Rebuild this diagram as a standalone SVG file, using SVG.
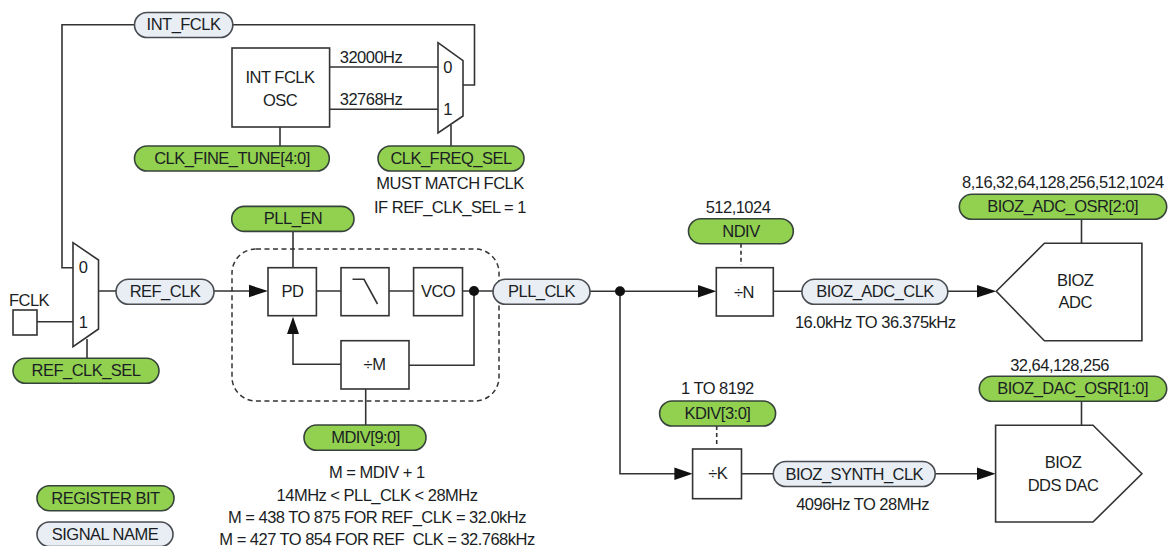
<svg xmlns="http://www.w3.org/2000/svg" width="1171" height="546" viewBox="0 0 1171 546">
<style>
text{font-family:"Liberation Sans",Arial,sans-serif;font-size:16.5px;fill:#1a1e24;text-anchor:middle;letter-spacing:-.52px}
.box{fill:#fff;stroke:#333;stroke-width:1.6}
.reg{fill:#92d14f;stroke:#36433a;stroke-width:1.6}
.sig{fill:#e9edf4;stroke:#484c50;stroke-width:1.6}
.w{fill:none;stroke:#333;stroke-width:1.6}
.d{stroke-dasharray:4 3}
.dot{fill:#111}
.ah{fill:#111}
</style>
<g id="connectors">
<path class="w" d="M134.500 24.700H62V267.700H73"/>
<path class="w" d="M232.800 24.700H474.500V85H463"/>
<path class="w" d="M329.600 67H438M329.600 109.300H438"/>
<path class="w" d="M280 127V146M451 125V146"/>
<path class="w" d="M293 231.700V268"/>
<path class="w" d="M37 321.700H73M87 339V358.300M98 291H116M214 291H250"/>
<path class="w" d="M316.400 291H341M389 291H413.600M462.500 291H493"/>
<path class="w" d="M341 364.300H293V333"/>
<path class="w" d="M409 365.300H474V291"/>
<path class="w" d="M365.700 389V425"/>
<path class="w" d="M590 291.300H699M773.300 291.300H802M947.800 291.300H978"/>
<path class="w" d="M620 291.300V473.700H675M741.500 473.700H773.300M935.200 473.700H978"/>
<path class="w d" d="M741 243.700V265M716.700 426V447"/>
<path class="w" d="M1081.500 219.300V243.300M1081.500 401.300V425.300"/>
<path class="w" d="M352.500 279.300H364L377.500 304"/>
<path class="ah" d="M268 291L249 284.800V297.200Z"/>
<path class="ah" d="M293 316.700L287 334H299Z"/>
<path class="ah" d="M716.300 291.300L698 285V297.600Z"/>
<path class="ah" d="M996.300 291.300L977 285V297.600Z"/>
<path class="ah" d="M692.600 473.700L674.400 467.400V480Z"/>
<path class="ah" d="M995.600 473.700L977 467.400V480Z"/>
<circle class="dot" cx="474" cy="291" r="5"/>
<circle class="dot" cx="620" cy="291.300" r="5"/>
</g>
<g id="pll-boundary"><rect x="232" y="249" width="267" height="152" rx="24" fill="none" stroke="#333" stroke-width="1.5" stroke-dasharray="5 3.500"/></g>
<g id="int-fclk"><rect class="sig" x="134.500" y="12.500" width="98.300" height="25" rx="12.500"/><text x="183.500" y="30.300">INT_FCLK</text></g>
<g id="osc"><rect class="box" x="232" y="48" width="97.600" height="79"/><text x="280" y="83">INT FCLK</text><text x="280" y="105.700">OSC</text></g>
<g id="mux-top"><path class="box" d="M438 42.700L463 60.700V116L438 133Z"/><text x="447.500" y="73">0</text><text x="447.500" y="115">1</text></g>
<g id="f32000"><text x="371" y="63">32000Hz</text></g>
<g id="f32768"><text x="371" y="105">32768Hz</text></g>
<g id="clk-fine-tune"><rect class="reg" x="134.500" y="146" width="194.800" height="25" rx="12.500"/><text x="232" y="163.500">CLK_FINE_TUNE[4:0]</text></g>
<g id="clk-freq-sel"><rect class="reg" x="378" y="146" width="146" height="25" rx="12.500"/><text x="451" y="163.500">CLK_FREQ_SEL</text><text x="450" y="189">MUST MATCH FCLK</text><text x="450" y="212.700">IF REF_CLK_SEL = 1</text></g>
<g id="pll-en"><rect class="reg" x="231.700" y="206.400" width="122.300" height="25" rx="12.500"/><text x="293" y="224">PLL_EN</text></g>
<g id="mux-ref"><path class="box" d="M73 242.700L98.500 260V329L73 346.700Z"/><text x="83" y="273">0</text><text x="83" y="328">1</text></g>
<g id="fclk"><text x="29" y="305.700">FCLK</text><rect class="box" x="13" y="310" width="24" height="25"/></g>
<g id="ref-clk-sel"><rect class="reg" x="13" y="358.300" width="146" height="25" rx="12.500"/><text x="86" y="376">REF_CLK_SEL</text></g>
<g id="ref-clk"><rect class="sig" x="116" y="279.300" width="98" height="25" rx="12.500"/><text x="165" y="297">REF_CLK</text></g>
<g id="pd"><rect class="box" x="268" y="267.700" width="48.400" height="48"/><text x="292.500" y="297">PD</text></g>
<g id="filter"><rect class="box" x="341" y="267.700" width="48" height="48" style="fill:none"/></g>
<g id="vco"><rect class="box" x="413.600" y="267.700" width="48.900" height="48"/><text x="438" y="297">VCO</text></g>
<g id="div-m"><rect class="box" x="341" y="340.700" width="68" height="48.300"/><text x="374.500" y="370">÷M</text></g>
<g id="mdiv"><rect class="reg" x="304" y="425" width="122" height="25.300" rx="12.500"/><text x="365.500" y="443">MDIV[9:0]</text></g>
<g id="pll-notes"><text x="376.800" y="478">M = MDIV + 1</text><text x="377" y="500.700">14MHz &lt; PLL_CLK &lt; 28MHz</text><text x="377" y="523">M = 438 TO 875 FOR REF_CLK = 32.0kHz</text><text x="377" y="545">M = 427 TO 854 FOR REF_CLK = 32.768kHz</text></g>
<g id="legend-reg"><rect class="reg" x="37" y="485.700" width="137" height="25" rx="12.500"/><text x="105.500" y="503.500">REGISTER BIT</text></g>
<g id="legend-sig"><rect class="sig" x="37" y="522" width="136" height="24.500" rx="12.300"/><text x="105" y="539.500">SIGNAL NAME</text></g>
<g id="pll-clk"><rect class="sig" x="493" y="279.300" width="97" height="25" rx="12.500"/><text x="541.500" y="297">PLL_CLK</text></g>
<g id="div-n"><rect class="box" x="716.300" y="267.700" width="57" height="48.300"/><text x="744" y="297.700">÷N</text></g>
<g id="ndiv"><text x="738" y="212.700">512,1024</text><rect class="reg" x="688.500" y="218.700" width="104.800" height="25" rx="12.500"/><text x="741" y="236.500">NDIV</text></g>
<g id="bioz-adc-clk"><rect class="sig" x="801.900" y="279.300" width="145.900" height="25" rx="12.500"/><text x="875" y="297">BIOZ_ADC_CLK</text><text x="875.200" y="328.300">16.0kHz TO 36.375kHz</text></g>
<g id="bioz-adc-osr"><text x="1062.800" y="188.300">8,16,32,64,128,256,512,1024</text><rect class="reg" x="959.300" y="194.300" width="207.400" height="25" rx="12.500"/><text x="1062.600" y="212">BIOZ_ADC_OSR[2:0]</text></g>
<g id="bioz-adc"><path class="box" d="M996.300 291.300L1044.400 243.300H1141.900V340.700H1044.400Z"/><text x="1075.200" y="286">BIOZ</text><text x="1075.200" y="308">ADC</text></g>
<g id="div-k"><rect class="box" x="692.600" y="449" width="48.900" height="49.700"/><text x="717.800" y="479.300">÷K</text></g>
<g id="kdiv"><text x="717.400" y="394.300">1 TO 8192</text><rect class="reg" x="659.600" y="401" width="116" height="25" rx="12.500"/><text x="717.400" y="418.500">KDIV[3:0]</text></g>
<g id="bioz-synth-clk"><rect class="sig" x="773.300" y="461.500" width="161.900" height="25" rx="12.500"/><text x="854.300" y="479.500">BIOZ_SYNTH_CLK</text><text x="862.600" y="509.700">4096Hz TO 28MHz</text></g>
<g id="bioz-dac-osr"><text x="1059.600" y="370.700">32,64,128,256</text><rect class="reg" x="979.300" y="376.300" width="187.400" height="25" rx="12.500"/><text x="1072.600" y="394">BIOZ_DAC_OSR[1:0]</text></g>
<g id="bioz-dac"><path class="box" d="M995.600 425.300H1093L1141.900 473.700L1093 522H995.600Z"/><text x="1063" y="468.300">BIOZ</text><text x="1063" y="490.700">DDS DAC</text></g>
</svg>
